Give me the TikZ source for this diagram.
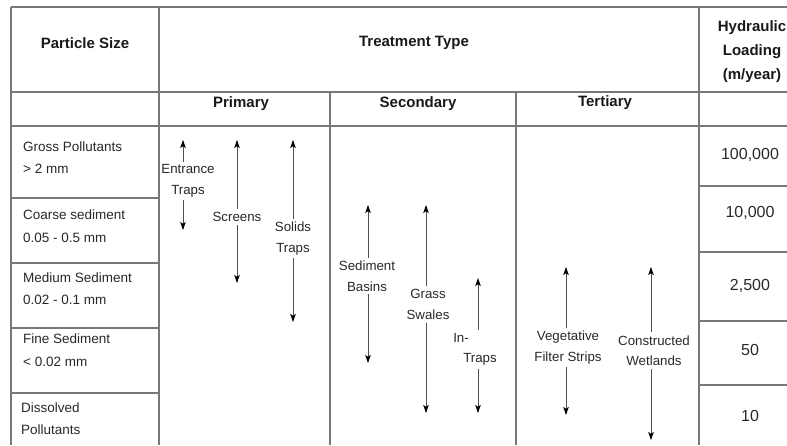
\documentclass[tikz,border=0pt]{standalone}
\usepackage{fontspec}
\setmainfont{Liberation Sans}
\usetikzlibrary{arrows.meta}
\definecolor{gridc}{RGB}{120,120,120}
\definecolor{txt}{RGB}{40,40,40}
\definecolor{hdrc}{RGB}{25,25,25}
\definecolor{arrc}{RGB}{80,80,80}
\begin{document}
\begin{tikzpicture}[x=1pt,y=-1pt,
  gridline/.style={draw=gridc,line width=1.3pt},
  hdr/.style={font=\fontsize{15}{24}\selectfont\bfseries,text=hdrc},
  lab/.style={font=\fontsize{13.5}{22.5}\selectfont,text=txt,align=left,anchor=west,inner sep=0pt},
  albl/.style={font=\fontsize{13.3}{20.5}\selectfont,text=txt,align=center,inner sep=3pt},
  num/.style={font=\fontsize{16}{19}\selectfont,text=txt},
  arr/.style={draw=arrc,line width=0.8pt,-{Stealth[length=8pt,width=5.5pt,inset=1.8pt,color=black]}}]
\useasboundingbox (0,0) rectangle (787,445);
\clip (0,0) rectangle (787,445);
% grid
\draw[gridline] (11,7) -- (787,7);
\draw[gridline] (11,7) -- (11,445);
\draw[gridline] (159,7) -- (159,445);
\draw[gridline] (699,7) -- (699,445);
\draw[gridline] (11,92) -- (787,92);
\draw[gridline] (11,126) -- (787,126);
\draw[gridline] (330,92) -- (330,445);
\draw[gridline] (516,92) -- (516,445);
\foreach \yy in {198,263,328,393} \draw[gridline] (11,\yy) -- (159,\yy);
\foreach \yy in {186,252,321,385} \draw[gridline] (699,\yy) -- (787,\yy);
% headers
\node[hdr] (ps) at (85,43) {Particle Size};
\node[hdr] (tt) at (414,43) {Treatment Type};
\node[hdr,align=center] (hl) at (752,52) {Hydraulic\\Loading\\(m/year)};
\node[hdr] (pri) at (241,104) {Primary};
\node[hdr] (sec) at (418,104) {Secondary};
\node[hdr] (ter) at (605,103) {Tertiary};
% particle sizes
\node[lab] (gp) at (23,157.5) {Gross Pollutants\\> 2 mm};
\node[lab] (cs) at (23,226) {Coarse sediment\\0.05 - 0.5 mm};
\node[lab] (ms) at (23,288.5) {Medium Sediment\\0.02 - 0.1 mm};
\node[lab] (fs) at (23,350) {Fine Sediment\\< 0.02 mm};
\node[lab] (dp) at (21,418.5) {Dissolved\\Pollutants};
% loadings
\node[num] (n1) at (750,155) {100,000};
\node[num] (n2) at (750,213) {10,000};
\node[num] (n3) at (750,286) {2,500};
\node[num] (n4) at (750,350) {50};
\node[num] (n5) at (750,416) {10};
% treatment arrows
\node[albl] (et) at (188,181) {Entrance\\Traps};
\coordinate (etT) at (183,140); \coordinate (etB) at (183,230);
\draw[arr] (et.north -| etT) -- (etT);
\draw[arr] (et.south -| etB) -- (etB);

\node[albl] (sc) at (237,217) {Screens};
\coordinate (scT) at (237,140); \coordinate (scB) at (237,283);
\draw[arr] (sc.north -| scT) -- (scT);
\draw[arr] (sc.south -| scB) -- (scB);

\node[albl] (so) at (293,238.5) {Solids\\Traps};
\coordinate (soT) at (293,140); \coordinate (soB) at (293,322);
\draw[arr] (so.north -| soT) -- (soT);
\draw[arr] (so.south -| soB) -- (soB);

\node[albl] (sb) at (367,276) {Sediment\\Basins};
\coordinate (sbT) at (368,205); \coordinate (sbB) at (368,363);
\draw[arr] (sb.north -| sbT) -- (sbT);
\draw[arr] (sb.south -| sbB) -- (sbB);

\node[albl] (gs) at (428,304.5) {Grass\\Swales};
\coordinate (gsT) at (426,205); \coordinate (gsB) at (426,413);
\draw[arr] (gs.north -| gsT) -- (gsT);
\draw[arr] (gs.south -| gsB) -- (gsB);

\node[albl,align=left] (it) at (475,349.5) {In-\\\hspace*{10pt}Traps};
\coordinate (itT) at (478,278); \coordinate (itB) at (478,413);
\draw[arr] (it.north -| itT) -- (itT);
\draw[arr] (it.south -| itB) -- (itB);

\node[albl] (vf) at (568,347.5) {Vegetative\\Filter Strips};
\coordinate (vfT) at (566,267); \coordinate (vfB) at (566,415);
\draw[arr] (vf.north -| vfT) -- (vfT);
\draw[arr] (vf.south -| vfB) -- (vfB);

\node[albl] (cw) at (654,350.5) {Constructed\\Wetlands};
\coordinate (cwT) at (651,267); \coordinate (cwB) at (651,440);
\draw[arr] (cw.north -| cwT) -- (cwT);
\draw[arr] (cw.south -| cwB) -- (cwB);
\end{tikzpicture}
\end{document}
